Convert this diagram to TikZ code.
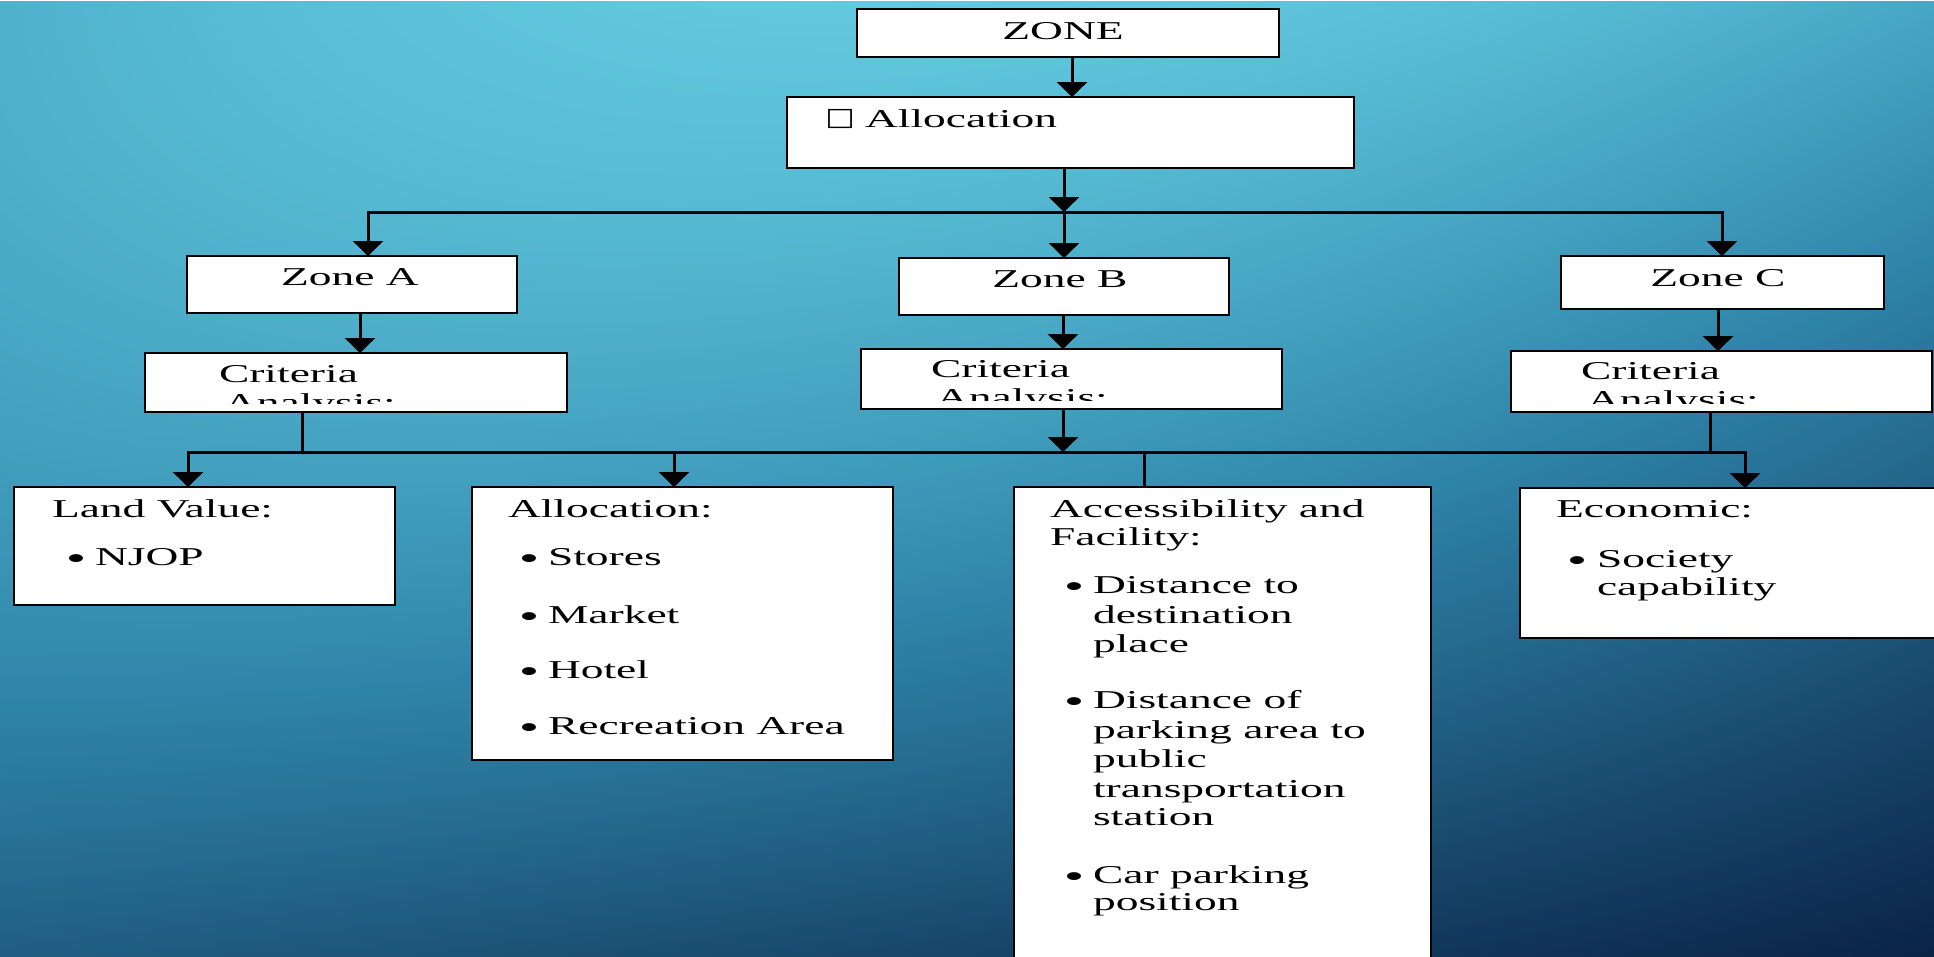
\documentclass[tikz,border=0pt]{standalone}
\usepackage{fontspec}
\setmainfont{Liberation Serif}[FakeStretch=1.77]
\newfontfamily\sqfont{DejaVu Sans}[FakeStretch=1.25]
\usetikzlibrary{arrows.meta}

\pgfdeclarefunctionalshading{bgshade}{\pgfpointorigin}{\pgfpoint{1934pt}{956pt}}{}{
952.74 div 1 exch sub
exch 1927.56 div exch
1 index 0.46 sub dup mul 0.70 mul
2 index 1 exch sub
2 index dup mul
mul 0.5 mul
add
3 1 roll
1 index 1 exch sub
1 index mul 0.75 mul 1 add
mul mul 0.8 mul
add
dup 0 lt {pop 0} if
dup 1 gt {pop 1} if
dup 0.406 lt
{0.406 div dup -0.2 mul 0.384 add exch dup -0.263 mul 0.788 add exch -0.204 mul 0.871 add}
{0.406 sub 0.594 div dup -0.145 mul 0.184 add exch dup -0.384 mul 0.525 add exch -0.385 mul 0.667 add}
ifelse
}

\tikzset{
  box/.style={draw=black, fill=white, line width=2.6pt, inner sep=0pt, outer sep=0pt, anchor=north west},
  txt/.style={font=\fontsize{25.7}{29.5}\selectfont, inner sep=0pt, outer sep=0pt, anchor=base west, text=black},
  ctxt/.style={txt, anchor=base},
  bul/.style={font=\fontsize{33}{33}\selectfont, inner sep=0pt, outer sep=0pt, anchor=base, text=black},
  sq/.style={font=\sqfont\fontsize{25}{25}\selectfont, inner sep=0pt, outer sep=0pt, anchor=center, text=black},
  conn/.style={line width=3pt, draw=black},
  arr/.style={conn, -{Triangle[width=30pt,length=15pt]}},
}

\begin{document}
\begin{tikzpicture}[x=1pt,y=-1pt]
\useasboundingbox (0,0) rectangle (1934,956);
\node[inner sep=0pt, outer sep=0pt, anchor=north west] (bg) at (0,0) {\pgfuseshading{bgshade}};

% boxes
\node[box, minimum width=422pt, minimum height=48pt] (zone) at (857,9) {};
\node[box, minimum width=567pt, minimum height=71pt] (alloc) at (787,97) {};
\node[box, minimum width=330pt, minimum height=57pt] (zA) at (187,256) {};
\node[box, minimum width=330pt, minimum height=57pt] (zB) at (899,258) {};
\node[box, minimum width=323pt, minimum height=53pt] (zC) at (1561,256) {};
\node[box, minimum width=422pt, minimum height=59pt] (cA) at (145,353) {};
\node[box, minimum width=421pt, minimum height=60pt] (cB) at (861,349) {};
\node[box, minimum width=421pt, minimum height=61pt] (cC) at (1511,351) {};
\node[box, minimum width=381pt, minimum height=118pt] (land) at (14,487) {};
\node[box, minimum width=421pt, minimum height=273pt] (allocB) at (472,487) {};
\node[box, minimum width=417pt, minimum height=510pt] (acc) at (1014,487) {};
\node[box, minimum width=440pt, minimum height=150pt] (econ) at (1520,488) {};

% junction and column coordinates
\coordinate (j1) at (1064,212);
\coordinate (j2) at (1063,452);
\coordinate (cx0) at (1072,0);
\coordinate (cxA1) at (368,0);
\coordinate (cxC1) at (1722,0);
\coordinate (cxA2) at (360,0);
\coordinate (cxC2) at (1718,0);
\coordinate (cxA3) at (302,0);
\coordinate (cxC3) at (1710,0);
\coordinate (cxL) at (188,0);
\coordinate (cxAl) at (674,0);
\coordinate (cxAc) at (1144,0);
\coordinate (cxE) at (1745,0);

% connectors
\draw[arr] (zone.south -| cx0) -- (alloc.north -| cx0);
\draw[arr] (alloc.south -| j1) -- (j1);
\draw[arr] (j1) -| (zA.north -| cxA1);
\draw[arr] (j1) -- (zB.north -| j1);
\draw[arr] (j1) -| (zC.north -| cxC1);
\draw[arr] (zA.south -| cxA2) -- (cA.north -| cxA2);
\draw[arr] (zB.south -| j2) -- (cB.north -| j2);
\draw[arr] (zC.south -| cxC2) -- (cC.north -| cxC2);
\draw[arr] (cB.south -| j2) -- (j2);
\draw[arr] (j2) -| (land.north -| cxL);
\draw[arr] (j2) -| (allocB.north -| cxAl);
\draw[arr] (j2) -| (econ.north -| cxE);
\draw[conn] (cA.south -| cxA3) -- (j2 -| cxA3);
\draw[conn] (cC.south -| cxC3) -- (j2 -| cxC3);
\draw[conn] (j2 -| cxAc) -- (acc.north -| cxAc);

% texts
\node[ctxt] (tZone) at (1063,39) {ZONE};
\node[sq] (tSq) at (840,119) {□};
\node[txt] (tAl) at (865,127) {Allocation};
\node[ctxt] (tZA) at (350,285) {Zone A};
\node[ctxt] (tZB) at (1060,287) {Zone B};
\node[ctxt] (tZC) at (1718,286) {Zone C};
\node[txt] (tCA) at (219,382) {Criteria};
\node[txt] (tCB) at (931,377) {Criteria};
\node[txt] (tCC) at (1581,379) {Criteria};
\begin{scope}
  \clip (cA.north west) rectangle ([yshift=8.5pt]cA.south east);
  \node[txt] (tAA) at (224,411) {Analysis:};
\end{scope}
\begin{scope}
  \clip (cB.north west) rectangle ([yshift=8.5pt]cB.south east);
  \node[txt] (tAB) at (936,406) {Analysis:};
\end{scope}
\begin{scope}
  \clip (cC.north west) rectangle ([yshift=8.5pt]cC.south east);
  \node[txt] (tAC) at (1587,408) {Analysis:};
\end{scope}

% land value
\node[txt] (tLV) at (52,517) {Land Value:};
\node[bul] (bL1) at (76,569) {\textbullet};
\node[txt] (tNJ) at (95,565) {NJOP};

% allocation
\node[txt] (tAlc) at (508,517) {Allocation:};
\node[bul] (bA1) at (529,569) {\textbullet};
\node[txt] (tA1) at (548,565) {Stores};
\node[bul] (bA2) at (529,627) {\textbullet};
\node[txt] (tA2) at (548,623) {Market};
\node[bul] (bA3) at (529,682) {\textbullet};
\node[txt] (tA3) at (548,678) {Hotel};
\node[bul] (bA4) at (529,738) {\textbullet};
\node[txt] (tA4) at (548,734) {Recreation Area};

% accessibility
\node[txt] (tAc1) at (1050,517) {Accessibility and};
\node[txt] (tAc2) at (1050,545) {Facility:};
\node[bul] (bC1) at (1074,597) {\textbullet};
\node[txt] (tC1) at (1093,593) {Distance to};
\node[txt] (tC2) at (1093,623) {destination};
\node[txt] (tC3) at (1093,652) {place};
\node[bul] (bC2) at (1074,712) {\textbullet};
\node[txt] (tC4) at (1093,708) {Distance of};
\node[txt] (tC5) at (1093,738) {parking area to};
\node[txt] (tC6) at (1093,767) {public};
\node[txt] (tC7) at (1093,797) {transportation};
\node[txt] (tC8) at (1093,825) {station};
\node[bul] (bC3) at (1074,887) {\textbullet};
\node[txt] (tC9) at (1093,883) {Car parking};
\node[txt] (tC10) at (1093,910) {position};

% economic
\node[txt] (tE0) at (1556,517) {Economic:};
\node[bul] (bE1) at (1577,571) {\textbullet};
\node[txt] (tE1) at (1597,567) {Society};
\node[txt] (tE2) at (1597,595) {capability};
\end{tikzpicture}
\end{document}
